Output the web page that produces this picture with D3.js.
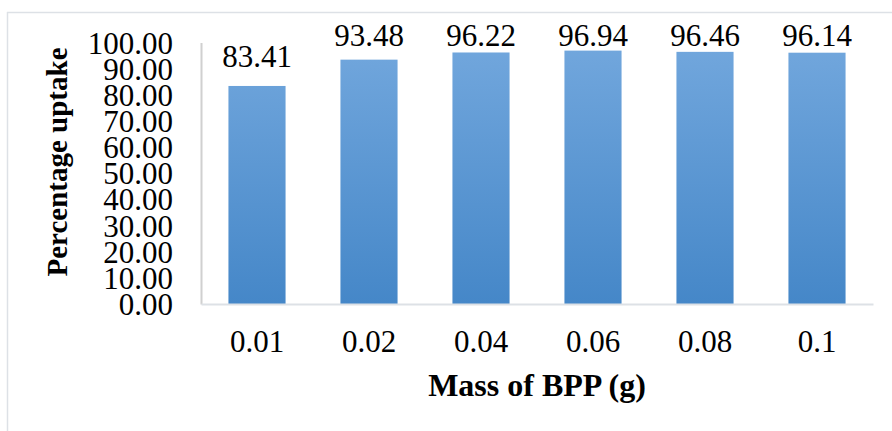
<!DOCTYPE html>
<html><head><meta charset="utf-8">
<script src="https://cdn.jsdelivr.net/npm/d3@7"></script>
<style>body{margin:0;background:#fff}svg{display:block}text{font-family:"Liberation Serif","Times New Roman",serif;fill:#000}</style>
</head><body><svg id="c" width="892" height="431"></svg>
<script>
const categories = ["0.01","0.02","0.04","0.06","0.08","0.1"];
const values = [83.41,93.48,96.22,96.94,96.46,96.14];
const yTicks = [0,10,20,30,40,50,60,70,80,90,100];
const yTitle = "Percentage uptake";
const xTitle = "Mass of BPP (g)";

const svg = d3.select("#c");
const L=201, R=873, T=42.6, B=304;
// outer frame
svg.append("line").attr("x1",7).attr("x2",892).attr("y1",12.5).attr("y2",12.5).attr("stroke","#dde1e6").attr("stroke-width",1.5);
svg.append("line").attr("x1",7.5).attr("x2",7.5).attr("y1",12).attr("y2",431).attr("stroke","#dde1e6").attr("stroke-width",1.5);

const x = d3.scaleBand().domain(categories).range([L,R]).paddingInner(0.49).paddingOuter(0.245);
const y = d3.scaleLinear().domain([0,100]).range([B,T]);

const defs = svg.append("defs");
const g = defs.append("linearGradient").attr("id","bg").attr("gradientUnits","userSpaceOnUse")
  .attr("x1",0).attr("x2",0).attr("y1",T).attr("y2",B);
g.append("stop").attr("offset","0%").attr("stop-color","#72a7dd");
g.append("stop").attr("offset","100%").attr("stop-color","#4587c8");

svg.selectAll("rect.bar").data(values).join("rect").attr("class","bar")
  .attr("x",(d,i)=>x(categories[i])).attr("width",x.bandwidth())
  .attr("y",d=>y(d)).attr("height",d=>B-y(d)).attr("fill","url(#bg)");

// y axis
const ya = svg.append("g").attr("transform",`translate(${L},0)`)
  .call(d3.axisLeft(y).tickValues(yTicks).tickFormat(d3.format(".2f")).tickSize(0).tickPadding(28));
ya.select(".domain").attr("stroke","#d0d0d0").attr("stroke-width",2);
ya.selectAll("text").style("font-size","31px").attr("dy","0.34em");

// x axis
const xa = svg.append("g").attr("transform",`translate(0,${B})`)
  .call(d3.axisBottom(x).tickSize(0));
xa.select(".domain").attr("stroke","#dde1e6").attr("stroke-width",2);
xa.selectAll("text").style("font-size","31px").attr("y",48).attr("dy",0);

// value labels
svg.selectAll("text.val").data(values).join("text").attr("class","val")
  .attr("x",(d,i)=>x(categories[i])+x.bandwidth()/2).attr("y",d=>Math.max(y(d)-19,46))
  .attr("text-anchor","middle").style("font-size","31px").text(d=>d.toFixed(2));

svg.append("text").attr("transform",`translate(67,162) rotate(-90)`)
  .attr("text-anchor","middle").style("font-size","29px").style("font-weight","bold").text(yTitle);
svg.append("text").attr("x",(L+R)/2).attr("y",396).attr("text-anchor","middle")
  .style("font-size","32px").style("font-weight","bold").text(xTitle);
</script></body></html>
